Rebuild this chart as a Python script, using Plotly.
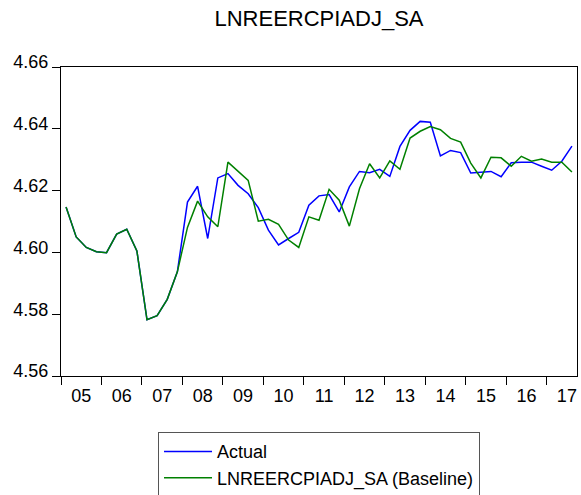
import plotly.graph_objects as go

# Quarterly observations 2005Q1 .. 2017Q3
quarters = [f"{y}Q{q}" for y in range(2005, 2018) for q in range(1, 5)][:51]

actual = [
    4.6147, 4.6050, 4.6016, 4.6002, 4.5999, 4.6059, 4.6075, 4.6005,
    4.5782, 4.5795, 4.5848, 4.5937, 4.6163, 4.6214, 4.6045, 4.6241,
    4.6255, 4.6217, 4.6190, 4.6145, 4.6072, 4.6024, 4.6045, 4.6065,
    4.6153, 4.6183, 4.6187, 4.6131, 4.6212, 4.6262, 4.6258, 4.6269,
    4.6246, 4.6343, 4.6395, 4.6424, 4.6421, 4.6312, 4.6330, 4.6323,
    4.6257, 4.6260, 4.6262, 4.6245, 4.6290, 4.6292, 4.6292, 4.6279,
    4.6266, 4.6295, 4.6344,
]

baseline = [
    4.6147, 4.6050, 4.6016, 4.6002, 4.5999, 4.6059, 4.6075, 4.6005,
    4.5782, 4.5795, 4.5848, 4.5937, 4.6081, 4.6166, 4.6115, 4.6083,
    4.6292, 4.6262, 4.6233, 4.6101, 4.6107, 4.6091, 4.6040, 4.6016,
    4.6115, 4.6104, 4.6204, 4.6169, 4.6085, 4.6206, 4.6287, 4.6241,
    4.6296, 4.6269, 4.6370, 4.6392, 4.6407, 4.6397, 4.6369, 4.6357,
    4.6289, 4.6241, 4.6308, 4.6306, 4.6279, 4.6311, 4.6295, 4.6302,
    4.6292, 4.6292, 4.6260,
]

year_labels = ["05", "06", "07", "08", "09", "10", "11",
               "12", "13", "14", "15", "16", "17"]

x = list(range(len(quarters)))
# labels sit mid-year, tick marks on the year boundaries
label_pos = [4 * k + 1.5 for k in range(len(year_labels))]
boundary_pos = [4 * k - 0.5 for k in range(len(year_labels))]

FONT = "Liberation Sans, Arial, sans-serif"

fig = go.Figure()
fig.add_trace(go.Scatter(
    x=x, y=actual, mode="lines", name="Actual",
    line=dict(color="#0000FF", width=1.5),
    text=quarters, hovertemplate="%{text}: %{y:.4f}<extra>Actual</extra>",
))
fig.add_trace(go.Scatter(
    x=x, y=baseline, mode="lines", name="LNREERCPIADJ_SA (Baseline)",
    line=dict(color="#008000", width=1.5),
    text=quarters, hovertemplate="%{text}: %{y:.4f}<extra>Baseline</extra>",
))

fig.update_layout(
    width=581, height=495,
    margin=dict(l=61, r=4, t=67, b=119, autoexpand=False),
    paper_bgcolor="white", plot_bgcolor="white",
    font=dict(family=FONT, size=18, color="black"),
    title=dict(text="LNREERCPIADJ_SA", x=0.5, xref="paper",
               y=1 - 18 / 495, yref="container", yanchor="middle",
               font=dict(family=FONT, size=22, color="black")),
    showlegend=True,
    legend=dict(x=0.188, y=-0.182, xanchor="left", yanchor="top",
                bordercolor="#555555", borderwidth=1, bgcolor="white",
                font=dict(family=FONT, size=18, color="black"),
                itemwidth=48, tracegroupgap=0),
)

fig.update_xaxes(
    range=[-0.5, len(quarters) - 0.5],
    tickmode="array", tickvals=label_pos, ticktext=year_labels,
    ticks="outside", ticklen=3, tickcolor="rgba(0,0,0,0)",
    minor=dict(tickmode="array", tickvals=boundary_pos, ticks="outside",
               ticklen=8, tickwidth=1, tickcolor="black", showgrid=False),
    showline=True, linecolor="black", linewidth=1, mirror=True,
    showgrid=False, zeroline=False,
    tickfont=dict(family=FONT, size=18, color="black"),
)
fig.update_yaxes(
    range=[4.56, 4.66], tickmode="linear", tick0=4.56, dtick=0.02,
    tickformat=".2f", ticklabelshift=-5,
    ticks="outside", ticklen=8, tickcolor="black", tickwidth=1,
    showline=True, linecolor="black", linewidth=1, mirror=True,
    showgrid=False, zeroline=False,
    tickfont=dict(family=FONT, size=18, color="black"),
)

fig.write_html("out.html")
